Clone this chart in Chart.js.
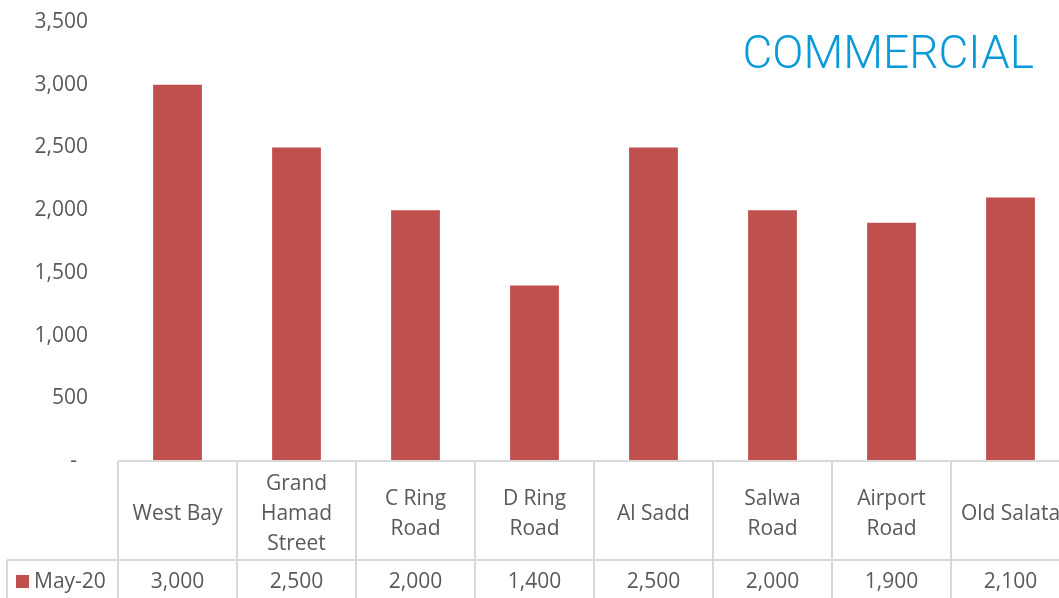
<!DOCTYPE html>
<html>
<head>
<meta charset="utf-8">
<script src="https://cdn.jsdelivr.net/npm/chart.js@4"></script>
<style>
  html, body { margin: 0; padding: 0; background: #fff; overflow: hidden; }
  #wrap { width: 1070px; height: 598px; }
</style>
</head>
<body>
<div id="wrap"><canvas id="commercial-chart"></canvas></div>
<script>
var areas = ['West Bay', 'Grand Hamad Street', 'C Ring Road', 'D Ring Road', 'Al Sadd', 'Salwa Road', 'Airport Road', 'Old Salata']
var areaLines = [['West Bay'], ['Grand', 'Hamad', 'Street'], ['C Ring', 'Road'], ['D Ring', 'Road'], ['Al Sadd'], ['Salwa', 'Road'], ['Airport', 'Road'], ['Old Salata']]
var rents = [3000, 2500, 2000, 1400, 2500, 2000, 1900, 2100]
var seriesName = 'May-20'
var yTicks = [0, 500, 1000, 1500, 2000, 2500, 3000, 3500]

var textFont = '"Open Sans", sans-serif'
var textColor = '#595959'
var lineColor = '#d9d9d9'
var barColor = '#c0504d'

var fmt = function(v) {
  return v === 0 ? '-  ' : v.toLocaleString('en-US')
}

// data table under the plot, like an Excel chart with table
var dataTable = {
  id: 'dataTable',
  afterDraw: function(chart) {
    var ctx = chart.ctx
    var area = chart.chartArea
    var x = chart.scales.x
    var h = chart.height
    var colW = x.width / areas.length
    var rowY = area.bottom + 99

    ctx.save()
    ctx.strokeStyle = lineColor
    ctx.lineWidth = 2
    ctx.beginPath()
    ctx.moveTo(area.left, area.bottom)
    ctx.lineTo(area.right, area.bottom)
    ctx.moveTo(7, rowY)
    ctx.lineTo(area.right, rowY)
    ctx.moveTo(7, rowY)
    ctx.lineTo(7, h)
    for (var i = 0; i <= areas.length; i++) {
      var bx = area.left + i * colW
      ctx.moveTo(bx, area.bottom)
      ctx.lineTo(bx, h)
    }
    ctx.stroke()

    ctx.fillStyle = textColor
    ctx.font = '21px ' + textFont
    ctx.textAlign = 'center'
    ctx.textBaseline = 'middle'
    var lineH = 30
    var cellMid = (area.bottom + rowY) / 2 + 4
    areaLines.forEach(function(lines, i) {
      var cx = x.getPixelForValue(i)
      var y0 = cellMid - (lines.length - 1) * lineH / 2
      lines.forEach(function(t, j) {
        ctx.fillText(t, cx, y0 + j * lineH)
      })
    })
    var valY = rowY + 22
    chart.data.datasets[0].data.forEach(function(v, i) {
      ctx.fillText(fmt(v), x.getPixelForValue(i), valY)
    })

    // series key in the first cell
    ctx.fillStyle = chart.data.datasets[0].backgroundColor
    ctx.fillRect(16, valY - 7, 13, 13)
    ctx.fillStyle = textColor
    ctx.textAlign = 'left'
    ctx.fillText(chart.data.datasets[0].label, 34, valY)

    // heading
    ctx.fillStyle = '#0a9ad8'
    ctx.font = '300 46px Roboto'
    ctx.textAlign = 'right'
    ctx.textBaseline = 'alphabetic'
    ctx.fillText('COMMERCIAL', 1034, 68)
    ctx.restore()
  }
}

var chart = new Chart(document.getElementById('commercial-chart'), {
  type: 'bar',
  data: {
    labels: areas,
    datasets: [{
      label: seriesName,
      data: rents,
      backgroundColor: barColor,
      barPercentage: 0.41,
      categoryPercentage: 1
    }]
  },
  options: {
    responsive: true,
    maintainAspectRatio: false,
    animation: false,
    layout: { padding: { top: 22, bottom: 137, left: 0, right: 0 } },
    plugins: {
      legend: { display: false },
      tooltip: { enabled: false }
    },
    scales: {
      x: {
        display: false
      },
      y: {
        min: 0,
        max: 3500,
        afterBuildTicks: function(scale) {
          scale.ticks = yTicks.map(function(v) { return { value: v } })
        },
        afterFit: function(scale) {
          scale.width = 118
          scale.paddingTop = 0
          scale.paddingBottom = 0
        },
        grid: { display: false, drawTicks: false },
        border: { display: false },
        ticks: {
          padding: 30,
          color: textColor,
          font: { family: textFont, size: 21 },
          callback: function(v) { return fmt(v) }
        }
      }
    }
  },
  plugins: [dataTable]
})
</script>
</body>
</html>
